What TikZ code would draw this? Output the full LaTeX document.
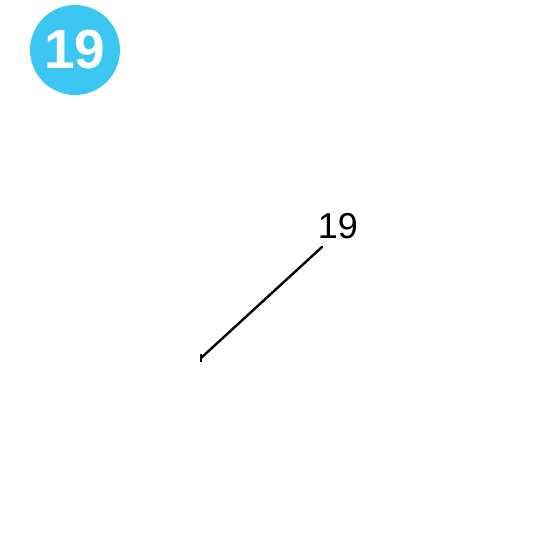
\documentclass[tikz,border=0pt]{standalone}
\usepackage{fontspec}
\setmainfont{Liberation Sans}
\definecolor{badge}{HTML}{3CC6F2}
\begin{document}
\begin{tikzpicture}[x=1pt,y=1pt,
  badgecirc/.style={circle,fill=badge,minimum size=90pt,inner sep=0pt},
  leader/.style={line width=2.4pt,line cap=round}]
\useasboundingbox (0,0) rectangle (550,550);
\node[badgecirc] (badge) at (75,500) {};
\node[text=white,font=\fontsize{55}{55}\selectfont\bfseries] (badgetext) at (75,500) {19};
\node[font=\fontsize{36}{36}\selectfont,inner sep=0pt] (lbl) at (338,324) {19};
\coordinate (start) at (322,303);
\coordinate (tip) at (201,192);
\draw[leader] (start) -- (tip);
\draw[line width=1.8pt] ([yshift=4pt]tip) -- ([yshift=-4pt]tip);
\end{tikzpicture}
\end{document}
